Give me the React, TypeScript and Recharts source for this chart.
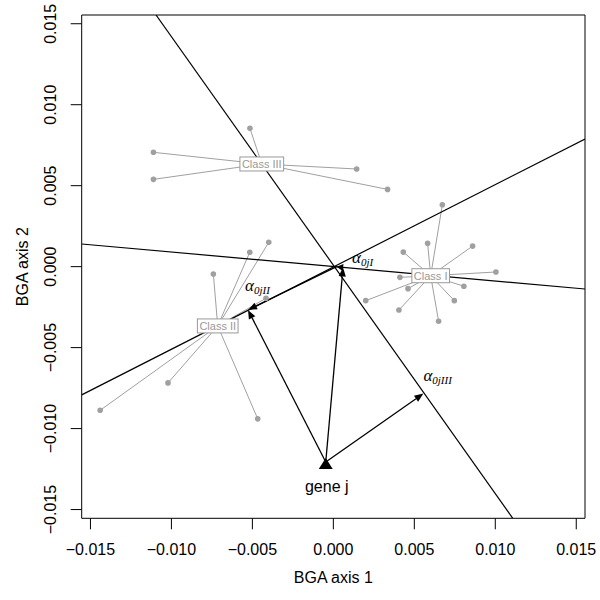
import React from "react";
import {
  ScatterChart,
  Scatter,
  XAxis,
  YAxis,
  ReferenceLine,
  ReferenceDot,
  ReferenceArea,
} from "recharts";

// axis ticks (both axes share the same range)
const axisTicks = [-0.015, -0.01, -0.005, 0, 0.005, 0.01, 0.015];
const LIM = 0.01554;

// sample coordinates per class
const classIPoints = [
  { x: 0.00673, y: 0.00382 },
  { x: 0.00582, y: 0.00144 },
  { x: 0.0086, y: 0.00127 },
  { x: 0.00432, y: 0.0009 },
  { x: 0.01004, y: -0.00033 },
  { x: 0.00411, y: -0.00066 },
  { x: 0.00806, y: -0.00121 },
  { x: 0.00461, y: -0.00136 },
  { x: 0.002, y: -0.0021 },
  { x: 0.00747, y: -0.0021 },
  { x: 0.00405, y: -0.00268 },
  { x: 0.0065, y: -0.00337 },
];
const classIIPoints = [
  { x: -0.00399, y: 0.0015 },
  { x: -0.00516, y: 0.00089 },
  { x: -0.00741, y: -0.00045 },
  { x: -0.00416, y: -0.00195 },
  { x: -0.01021, y: -0.00718 },
  { x: -0.0144, y: -0.00887 },
  { x: -0.00467, y: -0.0094 },
];
const classIIIPoints = [
  { x: -0.00515, y: 0.00854 },
  { x: -0.01111, y: 0.00706 },
  { x: -0.01111, y: 0.00539 },
  { x: 0.00144, y: 0.00603 },
  { x: 0.00335, y: 0.00477 },
];

const classNames = ["Class I", "Class II", "Class III"];
const classCentroids = [
  { x: 0.00601, y: -0.00056 },
  { x: -0.00714, y: -0.00366 },
  { x: -0.00442, y: 0.00634 },
];
const classPoints = [classIPoints, classIIPoints, classIIIPoints];

// discriminating lines through the origin (endpoints on the frame)
const lineA = [{ x: -0.01095, y: 0.01554 }, { x: 0.01108, y: -0.01554 }];
const lineB = [{ x: -0.01554, y: 0.0014 }, { x: 0.01554, y: -0.00138 }];
const lineC = [{ x: -0.01554, y: -0.00792 }, { x: 0.01554, y: 0.00788 }];

// gene j and its projections
const gene = { x: -0.00047, y: -0.01206 };
const footI = { x: 0.0006, y: -0.00005 };
const footII = { x: -0.00527, y: -0.00267 };
const footIII = { x: 0.00556, y: -0.00784 };
const nearOrigin = { x: 0.0002, y: 0 };
const alphaSubs = ["0jI", "0jII", "0jIII"];

const GRAY = "#a0a0a0";
const SANS = "'Liberation Sans', Arial, Helvetica, sans-serif";

const fmt = (v: number) => {
  const s = Math.abs(v).toFixed(3);
  return v < -1e-9 ? "\u2212" + s : s;
};

const XTick = (props: any) => {
  const { x, y, payload } = props;
  return (
    <text x={x} y={y + 19.7} textAnchor="middle" dominantBaseline="central" fontFamily={SANS} fontSize={16} fill="#000">
      {fmt(payload.value)}
    </text>
  );
};

const YTick = (props: any) => {
  const { x, y, payload } = props;
  const cx = x - 19.7;
  return (
    <text x={cx} y={y} textAnchor="middle" dominantBaseline="central" fontFamily={SANS} fontSize={16} fill="#000" transform={`rotate(-90 ${cx} ${y})`}>
      {fmt(payload.value)}
    </text>
  );
};

const xLabel = (props: any) => {
  const vb = props.viewBox;
  return (
    <text x={vb.x + vb.width / 2} y={vb.y + 58.7} textAnchor="middle" dominantBaseline="central" fontFamily={SANS} fontSize={16} fill="#000">
      BGA axis 1
    </text>
  );
};

const yLabel = (props: any) => {
  const vb = props.viewBox;
  const cx = vb.x + vb.width - 58.7;
  const cy = vb.y + vb.height / 2;
  return (
    <text x={cx} y={cy} textAnchor="middle" dominantBaseline="central" fontFamily={SANS} fontSize={16} fill="#000" transform={`rotate(-90 ${cx} ${cy})`}>
      BGA axis 2
    </text>
  );
};

const arrowShape = (p: any) => {
  const { x1, y1, x2, y2 } = p;
  const dx = x2 - x1;
  const dy = y2 - y1;
  const len = Math.sqrt(dx * dx + dy * dy) || 1;
  const ux = dx / len;
  const uy = dy / len;
  const L = Math.min(9, len);
  const W = 3.6;
  const bx = x2 - L * ux;
  const by = y2 - L * uy;
  return (
    <g>
      {len > L && <line x1={x1} y1={y1} x2={bx} y2={by} stroke="#000" strokeWidth={1.3} />}
      <polygon
        points={`${x2},${y2} ${bx - W * uy},${by + W * ux} ${bx + W * uy},${by - W * ux}`}
        fill="#000"
      />
    </g>
  );
};

const plainLine = (color: string, width: number) => (p: any) => (
  <line x1={p.x1} y1={p.y1} x2={p.x2} y2={p.y2} stroke={color} strokeWidth={width} clipPath={p.clipPath} />
);

const dotShape = (p: any) => <circle cx={p.cx} cy={p.cy} r={2.8} fill={GRAY} />;

const geneShape = (p: any) => (
  <g>
    <polygon points={`${p.cx},${p.cy - 4} ${p.cx - 7},${p.cy + 7} ${p.cx + 7},${p.cy + 7}`} fill="#000" />
    <text x={p.cx + 1} y={p.cy + 25} textAnchor="middle" dominantBaseline="central" fontFamily={SANS} fontSize={16} fill="#000">
      gene j
    </text>
  </g>
);

const charW: Record<string, number> = { C: 0.722, l: 0.222, a: 0.556, s: 0.5, " ": 0.278, I: 0.278 };

const classBox = (name: string) => (p: any) => {
  const fs = 11;
  const tw = name.split("").reduce((s, c) => s + (charW[c] ?? 0.5), 0) * fs;
  const w = tw + 4;
  const h = 14;
  return (
    <g>
      <rect x={p.cx - w / 2} y={p.cy - h / 2} width={w} height={h} fill="#fff" stroke="#999" strokeWidth={1} />
      <text x={p.cx} y={p.cy + 0.5} textAnchor="middle" dominantBaseline="central" fontFamily={SANS} fontSize={fs} fill="#999">
        {name}
      </text>
    </g>
  );
};

const alphaOffsets = [
  { dx: 9, dy: -7 },
  { dx: -3, dy: -22 },
  { dx: 0, dy: -16 },
];

const alphaLabel = (sub: string, off: { dx: number; dy: number }) => (p: any) => (
  <text x={p.cx + off.dx} y={p.cy + off.dy + 3} fontFamily="'Liberation Serif', 'Times New Roman', serif" fontStyle="italic" fontSize={17} fill="#000">
    {"\u03b1"}
    <tspan fontSize={11} dy={3}>
      {sub}
    </tspan>
  </text>
);

export default function App() {
  const feet = [footI, footII, footIII];
  return (
    <div style={{ position: "absolute", left: 0, top: 0, background: "#fff" }}>
      <ScatterChart width={600} height={600} margin={{ top: 15, right: 15, bottom: 0, left: 0 }}>
        <XAxis
          type="number"
          dataKey="x"
          domain={[-LIM, LIM]}
          ticks={axisTicks}
          allowDataOverflow
          axisLine={false}
          tickLine={{ stroke: "#000" }}
          tickSize={11}
          tickMargin={0}
          height={81.7}
          tick={XTick}
          label={xLabel}
        />
        <YAxis
          type="number"
          dataKey="y"
          domain={[-LIM, LIM]}
          ticks={axisTicks}
          allowDataOverflow
          axisLine={false}
          tickLine={{ stroke: "#000" }}
          tickSize={11}
          tickMargin={0}
          width={81.7}
          tick={YTick}
          label={yLabel}
        />
        <ReferenceArea x1={-LIM} x2={LIM} y1={-LIM} y2={LIM} fill="none" stroke="#000" strokeWidth={1} fillOpacity={0} ifOverflow="visible" />
        {classPoints.map((pts, ci) =>
          pts.map((pt, i) => (
            <ReferenceLine
              key={`s${ci}-${i}`}
              segment={[classCentroids[ci], pt]}
              shape={plainLine(GRAY, 1)}
              ifOverflow="visible"
            />
          ))
        )}
        {[lineA, lineB, lineC].map((seg, i) => (
          <ReferenceLine key={`b${i}`} segment={seg} shape={plainLine("#000", 1.2)} ifOverflow="hidden" />
        ))}
        {feet.map((f, i) => (
          <ReferenceLine key={`a${i}`} segment={[gene, f]} shape={arrowShape} ifOverflow="visible" />
        ))}
        <ReferenceLine segment={[nearOrigin, footII]} shape={arrowShape} ifOverflow="visible" />
        <ReferenceLine segment={[footI, nearOrigin]} shape={arrowShape} ifOverflow="visible" />
        {classPoints.map((pts, ci) => (
          <Scatter key={`p${ci}`} data={pts} shape={dotShape} isAnimationActive={false} />
        ))}
        <Scatter data={[gene]} shape={geneShape} isAnimationActive={false} />
        {feet.map((f, i) => (
          <ReferenceDot key={`l${i}`} x={f.x} y={f.y} shape={alphaLabel(alphaSubs[i], alphaOffsets[i])} ifOverflow="visible" />
        ))}
        {classCentroids.map((c, i) => (
          <ReferenceDot key={`c${i}`} x={c.x} y={c.y} shape={classBox(classNames[i])} ifOverflow="visible" zIndex={1000} />
        ))}
      </ScatterChart>
    </div>
  );
}
